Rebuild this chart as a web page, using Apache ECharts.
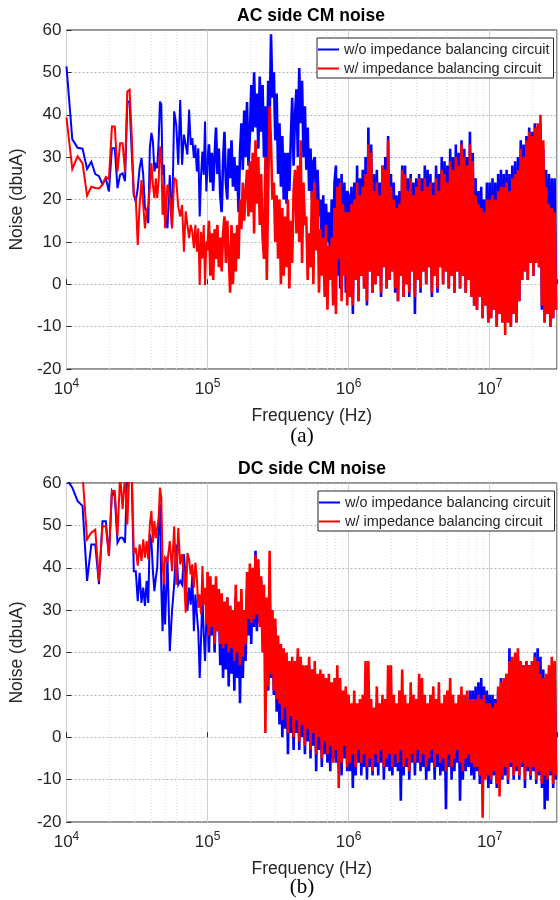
<!DOCTYPE html>
<html><head><meta charset="utf-8">
<script src="https://cdn.jsdelivr.net/npm/echarts@6.0.0/dist/echarts.min.js"></script>
<style>html,body{margin:0;padding:0;background:#fff}#c{width:560px;height:900px}</style>
</head><body><div id="c"></div>
<script>
// ---------------- data ----------------
const seriesNames = ['w/o impedance balancing circuit', 'w/ impedance balancing circuit'];
const yTicks = [-20, -10, 0, 10, 20, 30, 40, 50, 60];
const xDecadeTicks = [1e4, 1e5, 1e6, 1e7];
const minorGridHz = [2e4,3e4,4e4,5e4,6e4,7e4,8e4,9e4,2e5,3e5,4e5,5e5,6e5,7e5,8e5,9e5,2e6,3e6,4e6,5e6,6e6,7e6,8e6,9e6,2e7];

// measurement points below 100 kHz (kHz)
const lowFreqKHz = [10,11,12,13,14,15,16,17,18,19,20,21,22,23,24,25,26,27,28,29,30,31,32,33,34,35,36,37,38,39,40,41,42,43,44,45,46,47,48,49,
  50,52,54,56,58,60,62,64,66,68,70,72,74,76,78,80,82,84,86,88,90,92,94,96,98];
// sweep above 100 kHz: 248 points, 0.01 decade apart
const sweepStartHz = 1e5, sweepStepDecade = 0.01, sweepCount = 248;

// AC side, w/o balancing (blue)
const acBlueLow = [51.4,34.2,32.2,32,27.2,28.9,26,25.5,23.6,25,
  21.9,32.1,32.1,22.7,25.8,26.2,24.3,43.1,43.1,31.3,
  21.1,19.5,22.7,27.4,29.8,25.8,18,17.2,14.4,32.1,
  35.7,33.7,26.6,28.2,27.4,33.7,43.1,42.4,25.8,28.2,
  17.2,13.2,25.8,13.2,40.8,37.6,28.2,43.5,28.2,35.3,
  32.9,30.6,41.2,32.9,34.5,29.8,32.9,26.6,32.1,16,25.8,31.3,25.8,38.4,21.9];
const acBlueSweep = [28,33,24,31,22,30,37,26,32,21,
  17,29,36,24,20,32,25,34,23,30,
  22,28,17,31,38,27,41,30,43,28,
  35,47,36,50,37,45,32,49,36,47,
  30,42,24,48,38,59,44,50,34,45,
  26,38,23,35,20,31,19,31,22,34,
  44,28,40,46,30,51,38,48,30,42,
  27,37,22,32,20,29,30,18,27,16,
  20,8,21,5,19,10,17,3,20,6,
  24,28,2,25,-1,26,4,24,-2,22,
  21,-3,23,-7,24,1,28,-4,25,2,
  27,-1,30,-5,37,3,33,-2,26,0,
  27,2,24,-3,28,4,30,-1,35,1,
  26,3,24,-2,21,-4,22,2,28,-3,
  28,0,25,-3,26,3,24,-7,25,1,
  26,-2,25,3,28,0,27,4,26,-3,
  24,2,28,-2,26,4,30,0,29,3,
  28,-1,32,2,30,-2,33,3,31,-1,
  34,2,32,-2,30,1,36,-3,31,-5,
  25,-6,22,-3,23,-8,20,-5,24,-9,
  24,-8,25,-6,24,-10,26,-7,27,-9,
  26,-6,27,-9,26,-10,28,-7,29,-9,
  30,-4,34,1,33,3,35,1,37,5,
  36,2,38,9,37,4,38,-6,32,-9,
  27,-7,26,-10,25,-8,25,-6];

// AC side, w/ balancing (red)
const acRedLow = [39.4,27.2,30.2,28.5,20.9,23,22.7,22.6,23.5,25.3,
  24.8,37.2,37.2,26.6,33.3,33.3,26.6,45.5,45.9,35.3,
  21.1,20.3,9.3,18.7,24.6,24.3,13.2,17.2,18.7,22.7,
  28.6,23.5,20.3,25,20.3,24.3,32.5,30.6,16.4,23.5,
  13.2,23.5,20.3,13.2,25,24.6,18.3,16,18.7,7.7,
  17.2,14,10.9,14,12.4,8.5,14,7.7,13.2,-0.2,12.4,6.1,14,-0.2,10.1];
const acRedSweep = [8,15,2,12,1,13,6,14,4,11,
  3,12,16,5,15,7,-2,14,0,12,
  3,14,6,20,13,24,15,22,27,16,
  29,17,31,12,34,19,30,14,26,11,
  6,30,1,22,42,33,20,24,10,21,
  6,20,0,18,2,16,4,20,-1,15,
  5,22,27,12,28,10,34,5,24,14,
  16,1,12,4,22,0,24,8,20,-2,
  13,2,11,-3,14,-6,9,1,11,-5,
  18,-7,23,6,24,-4,19,2,17,-5,
  17,-3,19,-5,20,1,24,-4,21,2,
  23,-1,26,-4,33,3,31,-2,22,0,
  24,2,21,-2,28,4,27,-1,34,1,
  23,3,20,-1,18,-4,19,2,27,-3,
  26,0,22,-2,25,3,21,-3,23,1,
  25,-1,22,3,25,0,23,4,24,-2,
  21,2,25,-1,22,4,27,0,26,3,
  24,-1,29,2,27,-2,30,3,28,-1,
  33,2,30,-2,28,1,33,-3,29,-5,
  21,-6,19,-3,18,-8,17,-5,20,-9,
  20,-8,21,-6,20,-10,22,-7,23,-9,
  23,-12,24,-9,22,-10,25,-7,26,-9,
  27,-4,32,1,30,3,34,1,36,5,
  35,2,37,5,38,4,40,-5,34,-9,
  23,-7,19,-10,18,-8,17,-6];

// DC side, w/o balancing (blue)
const dcBlueLow = [61,58.9,55.7,54.6,36.9,45.5,45.5,36.1,51,51,
  42.8,58.1,56.9,45.9,47.1,47.1,45.9,63,66,62,
  39.2,39.2,32.1,38.8,31.7,35.3,31,36.9,31.7,47.9,
  46.3,39.2,34.5,37.6,40,50.2,55,35.3,25,37.6,
  26.6,42.8,20.3,29.8,36,45.5,36,36.9,36,43.2,
  37.6,29.8,35.3,31.3,38.4,25,33.7,29,25,14,23.5,33.7,24.3,18,27.4];
const dcBlueSweep = [33,20,36,24,35,20,34,25,33,17,
  32,14,30,16,33,12,31,15,29,11,
  33,14,30,8,32,14,29,18,35,24,
  37,22,39,26,44,25,40,27,37,24,
  33,18,30,11,34,14,28,10,26,6,
  22,3,21,0,19,2,18,-4,17,1,
  18,-3,17,1,19,-3,18,0,16,-4,
  15,-1,17,-5,16,-2,15,-8,14,-3,
  14,-7,13,-4,12,-6,13,-8,11,-5,
  12,-6,14,-7,11,-9,10,-5,11,-8,
  7,-8,6,-12,8,-9,6,-6,7,-9,
  7,-7,9,-10,8,-7,6,-9,6,-7,
  8,-9,7,-6,8,-10,7,-7,9,-8,
  9,-9,7,-7,7,-8,8,-15,9,-9,
  7,-7,7,-10,9,-6,7,-9,7,-6,
  9,-8,8,-7,7,-10,7,-8,7,-6,
  8,-10,7,-7,8,-9,7,-8,7,-17,
  8,-7,9,-10,7,-8,7,-6,7,-15,
  8,-10,8,-8,9,-7,11,-9,11,-10,
  12,-8,13,-11,14,-8,12,-9,11,-12,
  10,-11,10,-9,9,-12,11,-10,14,-10,
  13,-9,15,-11,21,-7,17,-10,18,-8,
  19,-10,18,-7,17,-12,18,-8,17,-10,
  18,-8,20,-11,21,-9,19,-12,16,-17,
  14,-15,15,-9,16,-12,17,-10];

// DC side, w/ balancing (red)
const dcRedLow = [62,66,64,62,46.7,48.3,49,36.9,49.8,49.8,
  42.8,58.1,58.1,47.5,62,53.8,62,50.2,64,63,
  43.4,44.7,40.5,45.5,41.6,46.7,42.4,46.3,42,50.2,
  53.4,45.9,51,47,49.4,51.8,58.9,56.5,41.6,36,
  42.4,41.6,46.3,39.2,49.8,36,49.4,40.8,43.2,38.4,
  29.4,43.5,42,38.4,40.8,35.3,41.2,37.6,30.5,33.7,29,40.4,31.3,35.3,26.6];
const dcRedSweep = [39,24,38,26,36,22,38,25,35,22,
  34,21,32,22,33,20,31,21,30,18,
  36,20,32,17,35,19,30,22,39,28,
  41,27,40,28,43,29,42,26,38,20,
  36,1,33,12,44,15,30,11,28,9,
  24,8,22,4,21,7,20,1,18,5,
  19,0,18,4,21,-1,19,3,17,-2,
  17,2,19,-3,16,1,18,-4,15,0,
  16,-5,15,-1,14,-4,15,-2,13,-6,
  14,-3,17,-12,14,-6,11,-2,12,-7,
  10,-6,8,-4,11,-7,8,-3,9,-6,
  10,-4,18,-7,18,-5,9,-8,7,-4,
  12,-6,8,-3,10,-7,9,-5,17,-4,
  17,-7,10,-4,8,-6,11,-3,16,-7,
  10,-5,8,-8,13,-4,10,-6,9,-3,
  15,-6,14,-4,10,-7,8,-5,10,-3,
  12,-7,9,-4,13,-6,8,-5,10,-8,
  11,-4,14,-7,10,-5,8,-3,10,-6,
  12,-8,10,-5,11,-4,9,-6,9,-7,
  9,-7,10,-9,9,-19,10,-10,8,-9,
  8,-10,7,-8,8,-11,12,-14,13,-9,
  14,-7,15,-10,18,-6,19,-9,20,-7,
  21,-9,18,-6,17,-10,18,-7,17,-9,
  18,-7,19,-10,18,-8,15,-11,14,-9,
  15,-10,17,-8,19,-11,18,-9];

// ---------------- build ----------------
const sweepHz = [];
for (let k = 0; k < sweepCount; k++) sweepHz.push(sweepStartHz * Math.pow(10, k * sweepStepDecade));
const freqHz = lowFreqKHz.map(f => f * 1000).concat(sweepHz);
const pairs = vals => freqHz.map((f, i) => [f, vals[i]]);
const nLow = lowFreqKHz.length;

const FONT = '"Liberation Sans", Arial, Helvetica, sans-serif';
const SERIF = '"Liberation Serif", "Times New Roman", serif';
const INK = '#262626';

function xAxisCfg(gi) {
  return {
    type: 'log', logBase: 10, gridIndex: gi, min: xDecadeTicks[0], max: 3e7,
    name: 'Frequency (Hz)', nameLocation: 'middle', nameGap: 38,
    nameTextStyle: { fontFamily: FONT, fontSize: 17.5, color: INK },
    axisLine: { show: false },
    axisTick: { show: true, inside: true, length: 5, lineStyle: { color: INK } },
    splitLine: { show: true, lineStyle: { color: '#cfcfcf', width: 1 } },
    axisLabel: {
      margin: 9, color: INK,
      formatter: v => {
        const e = Math.round(Math.log10(v));
        if (Math.abs(Math.log10(v) - e) > 1e-6) return '';
        return '{b|10}{s|' + e + '}';
      },
      rich: {
        b: { fontFamily: FONT, fontSize: 17, color: INK },
        s: { fontFamily: FONT, fontSize: 12, color: INK, padding: [0, 0, 10, 0] }
      }
    }
  };
}
function yAxisCfg(gi) {
  return {
    type: 'value', gridIndex: gi, min: yTicks[0], max: yTicks[yTicks.length - 1], interval: 10,
    name: 'Noise (dbuA)', nameLocation: 'middle', nameGap: 33,
    nameTextStyle: { fontFamily: FONT, fontSize: 17.5, color: INK },
    axisLine: { show: false },
    axisTick: { show: true, inside: true, length: 5, lineStyle: { color: INK } },
    splitLine: { show: true, lineStyle: { color: '#b4b4b4', type: [2, 2], width: 1 } },
    axisLabel: { fontFamily: FONT, fontSize: 17, color: INK, margin: 5 }
  };
}
function mkLine(name, data, color, gi, z, width, withMinor) {
  const s = {
    type: 'line', name, xAxisIndex: gi, yAxisIndex: gi, data,
    showSymbol: false, symbol: 'none', clip: true, z,
    color, lineStyle: { color, width, join: 'miter', miterLimit: 4 }, animation: false, silent: true
  };
  if (withMinor) {
    s.markLine = {
      silent: true, symbol: ['none', 'none'], animation: false,
      label: { show: false },
      lineStyle: { color: '#e2e2e2', type: [1, 2], width: 1 },
      data: minorGridHz.map(f => ({ xAxis: f }))
    };
  }
  return s;
}
// below 100 kHz the trace is thin; the dense sweep above is drawn a bit heavier
function addTrace(list, name, vals, color, gi, z, withMinor) {
  const d = pairs(vals);
  list.push(mkLine(name, d.slice(0, nLow + 1), color, gi, z, 2, withMinor));
  list.push(mkLine(name, d.slice(nLow), color, gi, z, 2.6, false));
}
function legendCfg(top, left) {
  return {
    orient: 'vertical', left, top, data: seriesNames, icon: 'rect',
    itemWidth: 21, itemHeight: 2, itemGap: 4, padding: [4, 4, 2, 1],
    backgroundColor: '#fff', borderColor: INK, borderWidth: 1, z: 30,
    selectedMode: false,
    textStyle: { fontFamily: FONT, fontSize: 14.5, color: INK }
  };
}

const series = [];
addTrace(series, seriesNames[0], acBlueLow.concat(acBlueSweep), '#0000ff', 0, 10, true);
addTrace(series, seriesNames[1], acRedLow.concat(acRedSweep), '#ff0000', 0, 11, false);
addTrace(series, seriesNames[0], dcBlueLow.concat(dcBlueSweep), '#0000ff', 1, 10, true);
addTrace(series, seriesNames[1], dcRedLow.concat(dcRedSweep), '#ff0000', 1, 11, false);

const chart = echarts.init(document.getElementById('c'), null, { renderer: 'canvas', devicePixelRatio: 1 });
chart.setOption({
  animation: false,
  backgroundColor: '#fff',
  grid: [
    { left: 63, right: 0, top: 30, height: 339, show: true, borderColor: INK, borderWidth: 1, backgroundColor: '#fff' },
    { left: 65, right: -2, top: 483, height: 339, show: true, borderColor: INK, borderWidth: 1, backgroundColor: '#fff' }
  ],
  xAxis: [xAxisCfg(0), xAxisCfg(1)],
  yAxis: [yAxisCfg(0), yAxisCfg(1)],
  legend: [legendCfg(38, 317), legendCfg(491, 318)],
  series,
  graphic: [
    { type: 'text', x: 311, y: 7, z: 40, style: { text: 'AC side CM noise', font: 'bold 17.5px ' + FONT, fill: '#000', align: 'center', textAlign: 'center', verticalAlign: 'top', textVerticalAlign: 'top' } },
    { type: 'text', x: 312, y: 460, z: 40, style: { text: 'DC side CM noise', font: 'bold 17.5px ' + FONT, fill: '#000', align: 'center', textAlign: 'center', verticalAlign: 'top', textVerticalAlign: 'top' } },
    { type: 'text', x: 302, y: 426, z: 40, style: { text: '(a)', font: '21px ' + SERIF, fill: '#000', align: 'center', textAlign: 'center', verticalAlign: 'top', textVerticalAlign: 'top' } },
    { type: 'text', x: 302, y: 877, z: 40, style: { text: '(b)', font: '21px ' + SERIF, fill: '#000', align: 'center', textAlign: 'center', verticalAlign: 'top', textVerticalAlign: 'top' } }
  ]
});
</script></body></html>
